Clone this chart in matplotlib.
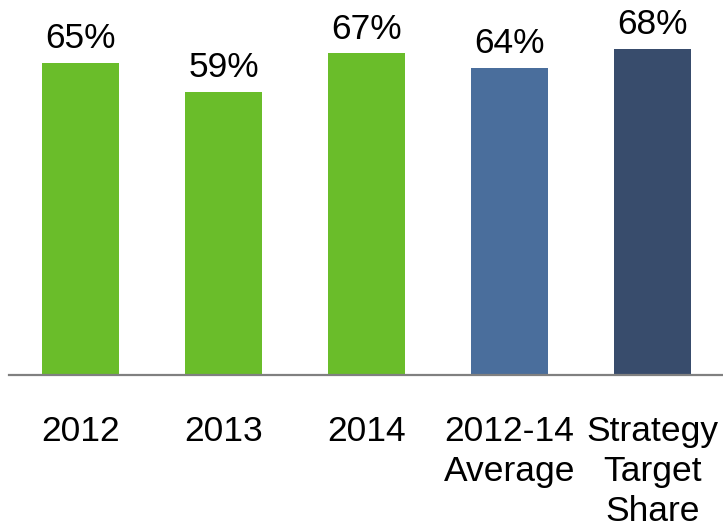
import matplotlib.pyplot as plt

categories = ["2012", "2013", "2014", "2012-14\nAverage", "Strategy\nTarget\nShare"]
shares = [65, 59, 67, 64, 68]
colors = ["#6ABD2A", "#6ABD2A", "#6ABD2A", "#4A6E9C", "#384C6C"]

plt.rcParams["font.family"] = ["Liberation Sans", "DejaVu Sans"]

fig = plt.figure(figsize=(7.23, 5.30), dpi=100)
ax = fig.add_axes([9 / 723, 155 / 530, 715 / 723, 360 / 530])

x = range(len(categories))
bars = ax.bar(x, shares, width=0.545, color=colors)

# value labels above each bar
for xi, val in zip(x, shares):
    ax.annotate(f"{val}%", (xi, val), xytext=(0, 10.5), textcoords="offset points",
                ha="center", va="baseline", fontsize=25.5)

ax.set_xlim(-0.5, 4.5)
ax.set_ylim(0, 75)
ax.set_xticks(list(x))
ax.set_xticklabels(categories, fontsize=25.5, linespacing=1.27)
ax.tick_params(axis="x", length=0, pad=28.5)
ax.set_yticks([])

for side in ["top", "left", "right"]:
    ax.spines[side].set_visible(False)
ax.spines["bottom"].set_color("#808080")
ax.spines["bottom"].set_linewidth(1.6)

fig.savefig("out.png", dpi=100)
